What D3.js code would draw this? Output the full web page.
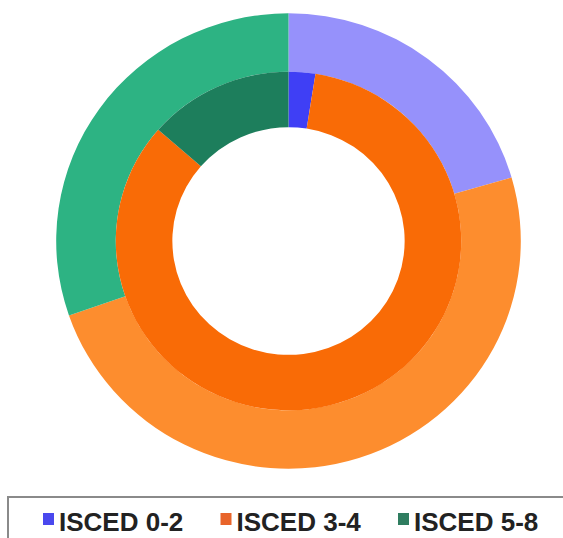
<!DOCTYPE html>
<html><head><meta charset="utf-8">
<script src="https://cdn.jsdelivr.net/npm/d3@7"></script>
<style>html,body{margin:0;padding:0;background:#fff;overflow:hidden}</style>
</head><body>
<svg id="chart" width="563" height="538"></svg>
<script>
const categories = ["ISCED 0-2", "ISCED 3-4", "ISCED 5-8"];
const outerValues = [20.5, 49.2, 30.3];
const innerValues = [2.5, 83.9, 13.6];
const outerColors = ["#9691fb", "#fd8d2e", "#2db383"];
const innerColors = ["#3f3ff5", "#f96b06", "#1d7e5c"];
const legendColors = ["#4a48ee", "#e8642a", "#2f7d60"];

const svg = d3.select("#chart");
const cx = 288.5, cy = 241;
const g = svg.append("g").attr("transform", `translate(${cx},${cy}) scale(1.01,0.99)`);

const pie = d3.pie().sort(null).value(d => d);
const outerArc = d3.arc().innerRadius(171).outerRadius(230);
const innerArc = d3.arc().innerRadius(115).outerRadius(171);

g.selectAll("path.outer").data(pie(outerValues)).join("path")
  .attr("class", "outer").attr("d", outerArc)
  .attr("fill", (d, i) => outerColors[i]);
g.selectAll("path.inner").data(pie(innerValues)).join("path")
  .attr("class", "inner").attr("d", innerArc)
  .attr("fill", (d, i) => innerColors[i]);

// legend
const lg = svg.append("g");
lg.append("rect").attr("x", 8).attr("y", 497).attr("width", 570).attr("height", 60)
  .attr("fill", "#fff").attr("stroke", "#8a8a8a").attr("stroke-width", 2);
const itemX = d3.scalePoint().domain(categories).range([43, 398]);
const items = lg.selectAll("g.item").data(categories).join("g")
  .attr("class", "item").attr("transform", d => `translate(${itemX(d)},0)`);
items.append("rect").attr("x", 0).attr("y", 513).attr("width", 11).attr("height", 12)
  .attr("fill", (d, i) => legendColors[i]);
items.append("text").attr("x", 16).attr("y", 531)
  .attr("font-family", "Liberation Sans, Arial, sans-serif").attr("font-weight", "bold")
  .attr("font-size", 26).attr("fill", "#222").text(d => d);
</script>
</body></html>
